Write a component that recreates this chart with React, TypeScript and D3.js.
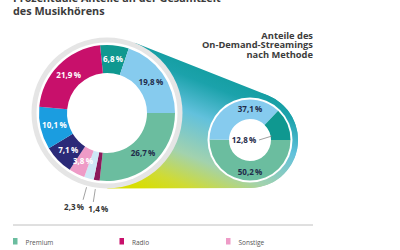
import React from "react";
import * as d3 from "d3";

// share of total listening time, clockwise from the video segment
const mainKeys = ["video", "free", "premium", "download", "cd", "sonstige", "tv", "online", "radio"];
const mainValues = [6.8, 19.8, 26.7, 1.4, 2.3, 3.8, 7.1, 10.1, 21.9];
const mainColors = ["#0f9890", "#86cbee", "#6bbd9f", "#8c1a5c", "#cde7f6", "#ee9bc7", "#2b2a78", "#1b9de0", "#c8106b"];
const mainText = ["#fff", "#1f2b4a", "#1f2b4a", "#333", "#333", "#fff", "#fff", "#fff", "#fff"];
const outsideKeys = ["download", "cd"];

// on-demand streaming split by method, clockwise from 3 o'clock
const streamKeys = ["premium", "free", "video"];
const streamValues = [50.2, 37.1, 12.8];
const streamColors = ["#6bbd9f", "#86cbee", "#0f9890"];

const titleLines = ["Prozentuale Anteile an der Gesamtzeit", "des Musikhörens"];
const subTitleLines = ["Anteile des", "On-Demand-Streamings", "nach Methode"];
const legendLabels = ["Premium", "Radio", "Sonstige"];
const legendColors = ["#6bbd9f", "#c8106b", "#ee9bc7"];

const fmt = (v: number) => v.toFixed(1).replace(".", ",") + "\u2009%";
const font = "'Open Sans', sans-serif";

export default function App() {
  const big = { x: 107, y: 113, ring: 75.5 };
  const small = { x: 250, y: 140, r: 48 };

  const total = d3.sum(mainValues);
  const leadShare = (mainValues[0] + mainValues[1]) / total;
  const mainPie = d3
    .pie<number>()
    .sort(null)
    .startAngle(Math.PI / 2 - leadShare * 2 * Math.PI)
    .endAngle(Math.PI / 2 - leadShare * 2 * Math.PI + 2 * Math.PI)(mainValues);
  const mainArc = d3.arc<d3.PieArcDatum<number>>().innerRadius(40).outerRadius(68);
  const labelArc = d3.arc<d3.PieArcDatum<number>>().innerRadius(54).outerRadius(54);

  const streamPie = d3
    .pie<number>()
    .sort(null)
    .startAngle(Math.PI / 2)
    .endAngle(Math.PI / 2 + 2 * Math.PI)(streamValues);
  const streamArc = d3.arc<d3.PieArcDatum<number>>().innerRadius(21).outerRadius(40.5);

  // funnel: hull of the two circles via their outer tangents
  const dx = small.x - big.x;
  const dy = small.y - big.y;
  const dist = Math.hypot(dx, dy);
  const base = Math.atan2(dy, dx);
  const off = Math.acos((big.ring - small.r) / dist);
  const nTop = base - off;
  const nBot = base + off;
  const p1t = [big.x + big.ring * Math.cos(nTop), big.y + big.ring * Math.sin(nTop)];
  const p2t = [small.x + small.r * Math.cos(nTop), small.y + small.r * Math.sin(nTop)];
  const p1b = [big.x + big.ring * Math.cos(nBot), big.y + big.ring * Math.sin(nBot)];
  const funnel = d3.path();
  funnel.moveTo(p1t[0], p1t[1]);
  funnel.lineTo(p2t[0], p2t[1]);
  funnel.arc(small.x, small.y, small.r, nTop, nBot);
  funnel.lineTo(p1b[0], p1b[1]);
  funnel.closePath();

  const polar = (a: number, r: number) => [big.x + r * Math.sin(a), big.y - r * Math.cos(a)];

  return (
    <svg width={400} height={250} style={{ position: "absolute", left: 0, top: 0 }} fontFamily={font}>
      <defs>
        <linearGradient id="funnelFill" gradientUnits="userSpaceOnUse" x1={230} y1={50} x2={170} y2={200}>
          <stop offset="0" stopColor="#0a9792" />
          <stop offset="0.25" stopColor="#1ba2ab" />
          <stop offset="0.45" stopColor="#62c1dc" />
          <stop offset="0.7" stopColor="#a2d2ae" />
          <stop offset="0.88" stopColor="#cfdb35" />
          <stop offset="1" stopColor="#d8de00" />
        </linearGradient>
      </defs>

      {titleLines.map((t, i) => (
        <text key={t} x={13} y={2 + i * 13} fontSize={10.8} fontWeight={700} fill="#3c3c3c">
          {t}
        </text>
      ))}

      <path d={funnel.toString()} fill="url(#funnelFill)" />
      <circle cx={small.x} cy={small.y} r={small.r} fill="url(#funnelFill)" />

      <circle cx={big.x} cy={big.y} r={big.ring} fill="#e5e5e5" />
      <circle cx={big.x} cy={big.y} r={70.5} fill="#fff" />
      <g transform={`translate(${big.x},${big.y})`}>
        {mainPie.map((d, i) => (
          <path key={mainKeys[i]} d={mainArc(d) ?? ""} fill={mainColors[i]} />
        ))}
        {mainPie.map((d, i) => {
          if (outsideKeys.includes(mainKeys[i])) return null;
          const [x, y] = labelArc.centroid(d);
          return (
            <text key={mainKeys[i]} x={x} y={y + 3} textAnchor="middle" fontSize={8} fontWeight={700} fill={mainText[i]}>
              {fmt(mainValues[i])}
            </text>
          );
        })}
      </g>

      {mainPie.map((d, i) => {
        if (!outsideKeys.includes(mainKeys[i])) return null;
        const a = (d.startAngle + d.endAngle) / 2;
        const [x0, y0] = polar(a, 77);
        const [x1, y1] = polar(a, 90);
        const first = mainKeys[i] === outsideKeys[1];
        return (
          <g key={mainKeys[i]}>
            <line x1={x0} y1={y0} x2={x1} y2={y1} stroke="#8a8a8a" strokeWidth={0.8} />
            <text
              x={first ? x1 + 1 : x1 - 5}
              y={first ? 210 : 212}
              textAnchor={first ? "end" : "start"}
              fontSize={8}
              fontWeight={700}
              fill="#333"
            >
              {fmt(mainValues[i])}
            </text>
          </g>
        );
      })}

      {subTitleLines.map((t, i) => (
        <text key={t} x={313} y={38.5 + i * 9.5} textAnchor="end" fontSize={9.3} fontWeight={700} fill="#3c3c3c">
          {t}
        </text>
      ))}

      <circle cx={small.x} cy={small.y} r={42.5} fill="#fff" />
      <g transform={`translate(${small.x},${small.y})`}>
        {streamPie.map((d, i) => (
          <path key={streamKeys[i]} d={streamArc(d) ?? ""} fill={streamColors[i]} />
        ))}
        {/* labels for the streaming split */}
        <text x={0} y={-28} textAnchor="middle" fontSize={8} fontWeight={700} fill="#1f2b4a">
          {fmt(streamValues[1])}
        </text>
        <text x={-6} y={3} textAnchor="middle" fontSize={8} fontWeight={700} fill="#1f2b4a">
          {fmt(streamValues[2])}
        </text>
        <line x1={9} y1={0} x2={22} y2={-4} stroke="#777" strokeWidth={0.7} />
        <text x={0} y={35} textAnchor="middle" fontSize={8} fontWeight={700} fill="#1f2b4a">
          {fmt(streamValues[0])}
        </text>
      </g>

      <line x1={13} y1={225} x2={313} y2={225} stroke="#b0b0b0" strokeWidth={0.8} />
      {legendLabels.map((t, i) => (
        <g key={t} transform={`translate(${13 + i * 106.5},238)`}>
          <rect x={0} y={0} width={4.5} height={6.5} fill={legendColors[i]} />
          <text x={12.5} y={6.5} fontSize={6.5} fill="#555">
            {t}
          </text>
        </g>
      ))}
    </svg>
  );
}
